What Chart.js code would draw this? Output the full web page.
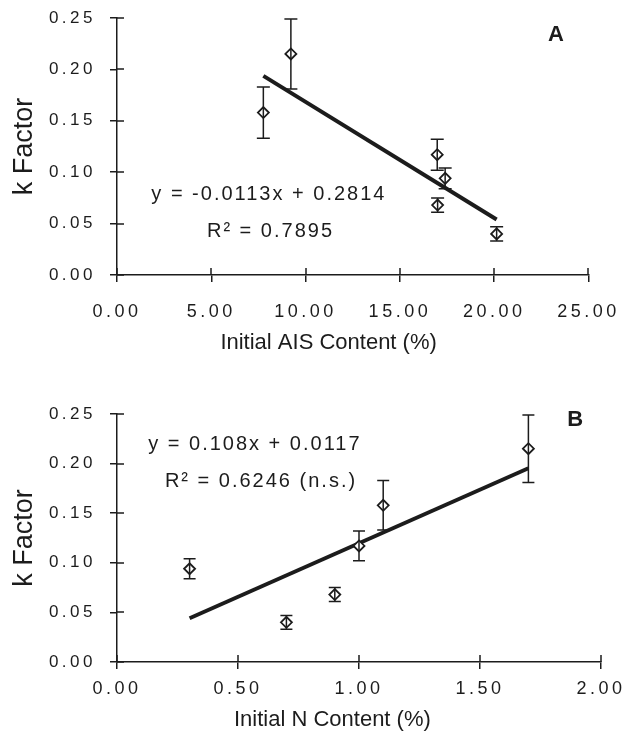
<!DOCTYPE html>
<html>
<head>
<meta charset="utf-8">
<title>k Factor vs initial AIS and N content</title>
<script src="https://cdn.jsdelivr.net/npm/chart.js@4.4.1/dist/chart.umd.min.js"></script>
<style>
  html, body { margin: 0; padding: 0; background: #fff; }
  .panel { width: 630px; height: 376px; }
  canvas { display: block; }
</style>
</head>
<body>
<div class="panel"><canvas id="chartA" width="630" height="376"></canvas></div>
<div class="panel"><canvas id="chartB" width="630" height="376"></canvas></div>
<script>
// k factor of the six litter samples and its standard error
const kFactor = [0.158, 0.215, 0.117, 0.094, 0.068, 0.040];
const kError = [0.025, 0.034, 0.015, 0.010, 0.007, 0.007];
// initial chemistry of the same six samples (%)
const aisContent = [7.76, 9.22, 16.98, 17.40, 17.00, 20.13];
const nContent = [1.1, 1.7, 1.0, 0.3, 0.9, 0.7];

// regression coefficients as printed: [slope, intercept]
const fitA = [-0.0113, 0.2814];
const fitB = [0.108, 0.0117];

// axis ranges: [min, max, step]
const kTicks = [0, 0.25, 0.05];
const aisTicks = [0, 25, 5];
const nTicks = [0, 2, 0.5];

const INK = '#1c1c1c';
const FONT = "'Liberation Sans', Arial, Helvetica, sans-serif";

// error bars, ticks that cross the axes, and the free text on each panel
const panelDecor = {
    id: 'panelDecor',
    beforeDraw(chart) {
        chart.ctx.letterSpacing = '0px';
    },
    afterDatasetsDraw(chart, args, opts) {
        const ctx = chart.ctx;
        const xs = chart.scales.x;
        const ys = chart.scales.y;
        const area = chart.chartArea;

        ctx.save();
        ctx.strokeStyle = INK;
        ctx.lineWidth = 1.5;
        ctx.beginPath();
        chart.data.datasets[0].data.forEach(p => {
            const px = xs.getPixelForValue(p.x);
            const top = ys.getPixelForValue(p.y + p.err);
            const bot = ys.getPixelForValue(p.y - p.err);
            ctx.moveTo(px, top);
            ctx.lineTo(px, bot);
            ctx.moveTo(px - opts.cap, top);
            ctx.lineTo(px + opts.cap, top);
            ctx.moveTo(px - opts.cap, bot);
            ctx.lineTo(px + opts.cap, bot);
        });
        // inner half of every tick mark
        ys.ticks.forEach(t => {
            const py = Math.round(ys.getPixelForValue(t.value));
            ctx.moveTo(area.left, py);
            ctx.lineTo(area.left + 7, py);
        });
        xs.ticks.forEach(t => {
            const px = Math.round(xs.getPixelForValue(t.value));
            ctx.moveTo(px, area.bottom);
            ctx.lineTo(px, area.bottom - 7);
        });
        ctx.stroke();

        ctx.fillStyle = INK;
        ctx.textBaseline = 'middle';
        opts.notes.forEach(n => {
            ctx.font = n.font;
            ctx.letterSpacing = n.spacing || '0px';
            ctx.textAlign = n.align || 'left';
            ctx.fillText(n.text, xs.getPixelForValue(n.at[0]), ys.getPixelForValue(n.at[1]));
        });
        ctx.restore();

        // tick labels are drawn after this hook (ticks.z = 1), widely spaced
        ctx.letterSpacing = '3.5px';
    },
    afterDraw(chart) {
        chart.ctx.letterSpacing = '0px';
    }
};

function makePanel(id, cfg) {
    const points = cfg.x.map((x, i) => ({ x: x, y: kFactor[i], err: kError[i] }));
    const lo = Math.min(...cfg.x);
    const hi = Math.max(...cfg.x);
    const fitLine = [lo, hi].map(x => ({ x: x, y: cfg.fit[0] * x + cfg.fit[1] }));

    const axisLine = { color: INK, width: 1.5 };
    const tickMarks = { drawOnChartArea: false, drawTicks: true, tickLength: 7, color: INK, lineWidth: 1.5 };

    return new Chart(document.getElementById(id), {
        type: 'scatter',
        data: {
            datasets: [{
                data: points,
                pointStyle: 'rectRot',
                pointRadius: 5.5,
                backgroundColor: '#ffffff',
                borderColor: INK,
                borderWidth: 1.8,
                order: 0
            }, {
                data: fitLine,
                showLine: true,
                pointRadius: 0,
                borderColor: INK,
                borderWidth: 4,
                order: 1
            }]
        },
        options: {
            responsive: false,
            animation: false,
            events: [],
            layout: { padding: cfg.padding },
            plugins: {
                legend: { display: false },
                tooltip: { enabled: false },
                panelDecor: { cap: cfg.cap, notes: cfg.notes }
            },
            scales: {
                x: {
                    type: 'linear',
                    position: 'bottom',
                    min: cfg.ticks[0],
                    max: cfg.ticks[1],
                    ticks: {
                        stepSize: cfg.ticks[2],
                        callback: v => v.toFixed(2),
                        color: INK,
                        font: { family: FONT, size: 18 },
                        padding: cfg.tickPad,
                        maxRotation: 0,
                        autoSkip: false,
                        z: 1
                    },
                    grid: tickMarks,
                    border: axisLine,
                    afterFit: s => { s.height = cfg.xHeight; }
                },
                y: {
                    min: kTicks[0],
                    max: kTicks[1],
                    ticks: {
                        stepSize: kTicks[2],
                        callback: v => v.toFixed(2),
                        color: INK,
                        font: { family: FONT, size: 17 },
                        padding: 14,
                        z: 1
                    },
                    grid: tickMarks,
                    border: axisLine,
                    title: {
                        display: true,
                        text: 'k Factor',
                        color: INK,
                        font: { family: FONT, size: 27 },
                        padding: { top: 8, bottom: 0 }
                    },
                    afterFit: s => {
                        s.width = 117;
                        // keep the tick padding from pushing the plot area down
                        s.paddingTop = 10;
                        s.paddingBottom = 10;
                    }
                }
            }
        },
        plugins: [panelDecor]
    });
}

const eqFont = '20px ' + FONT;
const titleFont = '22px ' + FONT;
const tagFont = 'bold 22px ' + FONT;

makePanel('chartA', {
    x: aisContent,
    fit: fitA,
    ticks: aisTicks,
    padding: { top: 18, right: 36, bottom: 0, left: 0 },
    xHeight: 101,
    tickPad: 19,
    cap: 6.5,
    notes: [
        { text: 'y = -0.0113x + 0.2814', at: [1.82, 0.078], font: eqFont, spacing: '2px' },
        { text: 'R² = 0.7895', at: [4.77, 0.0424], font: eqFont, spacing: '2px' },
        { text: 'A', at: [23.27, 0.2335], font: tagFont, align: 'center' },
        { text: 'Initial AIS Content (%)', at: [11.22, -0.0661], font: titleFont, align: 'center' }
    ]
});

makePanel('chartB', {
    x: nContent,
    fit: fitB,
    ticks: nTicks,
    padding: { top: 38, right: 29, bottom: 0, left: 0 },
    xHeight: 90,
    tickPad: 9,
    cap: 6,
    notes: [
        { text: 'y = 0.108x + 0.0117', at: [0.129, 0.2197], font: eqFont, spacing: '2px' },
        { text: 'R² = 0.6246 (n.s.)', at: [0.198, 0.1821], font: eqFont, spacing: '2px' },
        { text: 'B', at: [1.893, 0.244], font: tagFont, align: 'center' },
        { text: 'Initial N Content (%)', at: [0.89, -0.0585], font: titleFont, align: 'center' }
    ]
});
</script>
</body>
</html>
